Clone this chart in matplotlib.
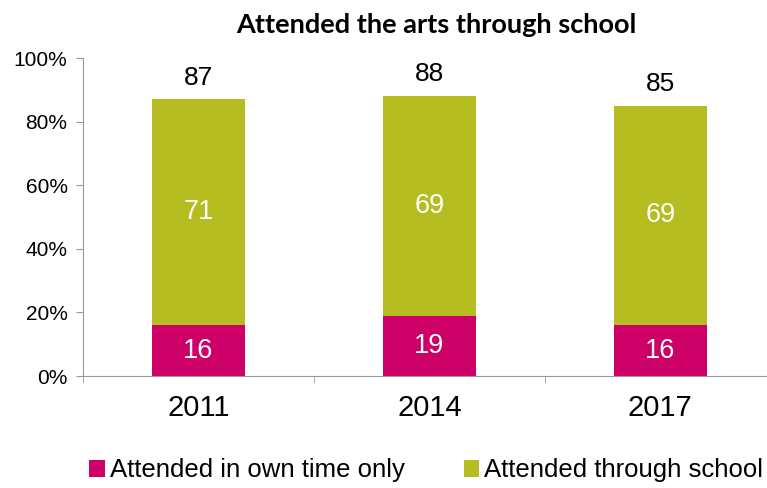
import matplotlib.pyplot as plt

# Data
years = ['2011', '2014', '2017']
own_time = [16, 19, 16]
through_school = [71, 69, 69]
totals = [87, 88, 85]

pink = '#CC0066'
green = '#B5BD21'

plt.rcParams['font.family'] = ['Liberation Sans', 'DejaVu Sans']

fig = plt.figure(figsize=(7.67, 4.88), dpi=100)
ax = fig.add_axes([0.108, 0.2295, 0.9035, 0.6516])

x = range(len(years))
ax.bar(x, [v / 100 for v in own_time], width=0.4, color=pink, label='Attended in own time only')
ax.bar(x, [v / 100 for v in through_school], width=0.4, bottom=[v / 100 for v in own_time],
       color=green, label='Attended through school')

# labels inside and above the bars
for i in x:
    ax.text(i, own_time[i] / 200, str(own_time[i]), ha='center', va='center', color='white', fontsize=19.5)
    ax.text(i, (own_time[i] + through_school[i] / 2) / 100, str(through_school[i]),
            ha='center', va='center', color='white', fontsize=19.5)
    ax.annotate(str(totals[i]), (i, totals[i] / 100), xytext=(0, 7), textcoords='offset points',
                ha='center', va='bottom', fontsize=19)

ax.set_xlim(-0.5, 2.5)
ax.set_ylim(0, 1)
ax.set_yticks([0, 0.2, 0.4, 0.6, 0.8, 1.0])
ax.set_yticklabels(['0%', '20%', '40%', '60%', '80%', '100%'], fontsize=15)
ax.set_xticks(list(x))
ax.set_xticklabels(years, fontsize=21)
ax.tick_params(axis='x', length=0, pad=13)
ax.set_xticks([-0.5, 0.5, 1.5], minor=True)
ax.tick_params(axis='x', which='minor', length=5, color='#999999')
ax.tick_params(axis='y', length=5, color='#999999', pad=6)

for s in ['top', 'right']:
    ax.spines[s].set_visible(False)
ax.spines['left'].set_color('#999999')
ax.spines['bottom'].set_color('#999999')

fig.text(0.569, 0.948, 'Attended the arts through school', ha='center', va='center',
         fontsize=19.5, fontweight='bold', family=['Lato', 'DejaVu Sans'])

fig.legend(loc='center', bbox_to_anchor=(0.556, 0.036), ncol=2, frameon=False, fontsize=18.5,
           handlelength=0.6, handleheight=0.6, handletextpad=0.2, columnspacing=2.3,
           borderpad=0.1, borderaxespad=0.0)

fig.savefig('out.png', dpi=100)
